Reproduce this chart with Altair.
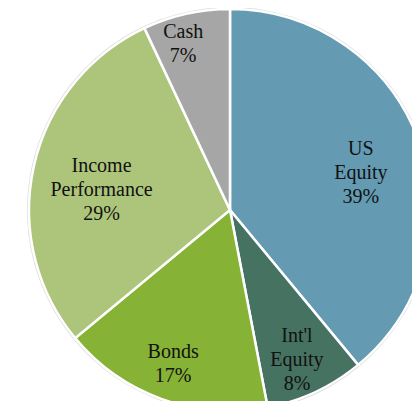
import math
import altair as alt
import pandas as pd

categories = ["US Equity", "Int'l Equity", "Bonds", "Income Performance", "Cash"]
labels = ["US\nEquity\n39%", "Int'l\nEquity\n8%", "Bonds\n17%", "Income\nPerformance\n29%", "Cash\n7%"]
values = [39, 8, 17, 29, 7]
colors = ["#649BB2", "#467262", "#86B236", "#ADC57A", "#A6A6A6"]

df = pd.DataFrame({
    "category": categories,
    "label": labels,
    "value": values,
    "order": list(range(len(categories))),
})

W, H = 404, 393
CX, CY = 222, 202
R = 201
FONT = "'Liberation Serif', 'DejaVu Serif', serif"
LH = 24

base = alt.Chart(df).transform_stack(
    stack="value", groupby=[], as_=["v0", "v1"], sort=[alt.SortField("order")]
).transform_calculate(mid="(datum.v0 + datum.v1) / 2")

theta_scale = alt.Scale(domain=[0, 100], range=[0, 2 * math.pi])

shadow = base.mark_arc(outerRadius=R + 2, color="#d4d4d4", opacity=0.8).encode(
    theta=alt.Theta("v0:Q", scale=theta_scale),
    theta2="v1:Q",
    x=alt.value(CX), y=alt.value(CY),
)

arcs = base.mark_arc(outerRadius=R, stroke="white", strokeWidth=2.5).encode(
    theta=alt.Theta("v0:Q", scale=theta_scale),
    theta2="v1:Q",
    x=alt.value(CX), y=alt.value(CY),
    color=alt.Color("category:N", scale=alt.Scale(domain=categories, range=colors), legend=None),
)

# per-label radius (px) and angular offset (degrees) as in the original layout
label_pos = {
    "US Equity": (136, 4.0),
    "Int'l Equity": (164, 1.1),
    "Bonds": (164, 0.5),
    "Income Performance": (130, -3.7),
    "Cash": (172, -3.2),
}

texts = []
for cat, lab in zip(categories, labels):
    r, off = label_pos[cat]
    nlines = lab.count("\n") + 1
    t = base.transform_filter(alt.datum.category == cat).mark_text(
        radius=r,
        thetaOffset=math.radians(off),
        dy=-(nlines - 1) * LH / 2,
        font=FONT,
        fontSize=20,
        lineHeight=LH,
        lineBreak="\n",
        align="center",
        baseline="middle",
        color="#111111",
    ).encode(
        theta=alt.Theta("mid:Q", scale=theta_scale),
        x=alt.value(CX), y=alt.value(CY),
        text="label:N",
    )
    texts.append(t)

chart = alt.layer(shadow, arcs, *texts).properties(
    width=W, height=H, padding=0, autosize=alt.AutoSizeParams(type="none")
).configure_view(stroke=None)

chart.save("out.html", embed_options={"renderer": "svg", "actions": False})
